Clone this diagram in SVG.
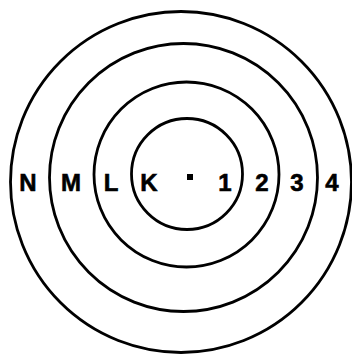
<svg xmlns="http://www.w3.org/2000/svg" width="352" height="355" viewBox="0 0 352 355">
<style>
.ring{fill:none;stroke:#000;stroke-width:2.8}
.lbl{font-family:"Liberation Sans",Arial,sans-serif;font-weight:bold;font-size:24px;fill:#000;text-anchor:middle;stroke:#000;stroke-width:0.6}
</style>
<rect width="352" height="355" fill="#fff"/>
<g id="ring4"><circle class="ring" cx="181" cy="182" r="170.5"/></g>
<g id="ring3"><circle class="ring" cx="183.5" cy="177.5" r="134"/></g>
<g id="ring2"><circle class="ring" cx="186.5" cy="174.5" r="92.5"/></g>
<g id="ring1"><circle class="ring" cx="187" cy="174" r="55.5"/></g>
<g id="center"><rect x="187" y="174" width="6" height="6" fill="#000"/></g>
<g id="labels">
<text class="lbl" x="28" y="191">N</text>
<text class="lbl" x="71" y="191">M</text>
<text class="lbl" x="111" y="191">L</text>
<text class="lbl" x="149" y="191">K</text>
<text class="lbl" x="225" y="191">1</text>
<text class="lbl" x="262" y="191">2</text>
<text class="lbl" x="297" y="191">3</text>
<text class="lbl" x="332" y="191">4</text>
</g>
</svg>
